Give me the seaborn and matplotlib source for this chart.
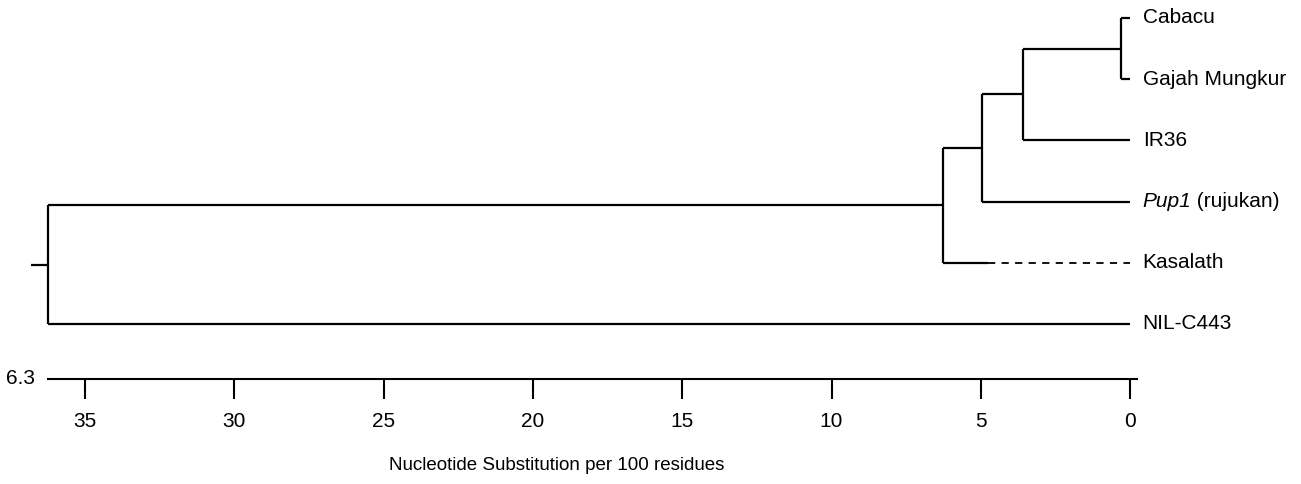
import matplotlib
matplotlib.use("Agg")
import matplotlib.pyplot as plt
import seaborn as sns
import pandas as pd

# ---- data -------------------------------------------------------------
leaf_names = ["Cabacu", "Gajah Mungkur", "IR36", "Pup1", "Kasalath", "NIL-C443"]
leaf_suffix = ["", "", "", " (rujukan)", "", ""]
leaf_italic = [False, False, False, True, False, False]
# merges (scipy-like): ids 0..5 are leaves, 6.. are internal nodes
merge_left = [0, 6, 7, 8, 9]
merge_right = [1, 2, 3, 4, 5]
merge_height = [0.32, 3.58, 4.95, 6.28, 36.24]
kasalath_solid_end = 4.76          # solid part of the Kasalath branch; rest is dashed
root_stub = 36.8
tick_values = [35, 30, 25, 20, 15, 10, 5, 0]
scale_label = "6.3"
x_label = "Nucleotide Substitution per 100 residues"

# ---- build tree geometry ----------------------------------------------
n_leaf = len(leaf_names)
ypos = {i: float(i) for i in range(n_leaf)}
xpos = {i: 0.0 for i in range(n_leaf)}
rows = []
dashed = []
seg = 0
for k, (a, b, h) in enumerate(zip(merge_left, merge_right, merge_height)):
    node = n_leaf + k
    ypos[node] = (ypos[a] + ypos[b]) / 2
    xpos[node] = h
    rows += [dict(seg=seg, x=h, y=ypos[a]), dict(seg=seg, x=h, y=ypos[b])]
    seg += 1
    for c in (a, b):
        if c == 4:  # Kasalath: solid then dashed
            rows += [dict(seg=seg, x=h, y=ypos[c]), dict(seg=seg, x=kasalath_solid_end, y=ypos[c])]
            dashed += [dict(x=kasalath_solid_end, y=ypos[c]), dict(x=xpos[c], y=ypos[c])]
        else:
            rows += [dict(seg=seg, x=h, y=ypos[c]), dict(seg=seg, x=xpos[c], y=ypos[c])]
        seg += 1
root = n_leaf + len(merge_height) - 1
rows += [dict(seg=seg, x=xpos[root], y=ypos[root]), dict(seg=seg, x=root_stub, y=ypos[root])]
df = pd.DataFrame(rows)
dfd = pd.DataFrame(dashed)

# ---- plot -------------------------------------------------------------
sns.set_style("white")
plt.rcParams["font.family"] = ["Liberation Sans", "DejaVu Sans"]
plt.rcParams["text.color"] = "black"
plt.rcParams["xtick.color"] = "black"

fig = plt.figure(figsize=(13.01, 4.84), dpi=100)
ax = fig.add_axes([48 / 1301, 105 / 484, (1137 - 48) / 1301, 379 / 484])

sns.lineplot(data=df, x="x", y="y", units="seg", estimator=None, sort=False,
             color="black", lw=1.6, ax=ax, legend=False)
sns.lineplot(data=dfd, x="x", y="y", estimator=None, sort=False,
             color="black", lw=1.3, ax=ax, legend=False, linestyle=(0, (4, 3.5)))
for ln in ax.lines:
    ln.set_clip_on(False)
    ln.set_solid_capstyle("butt")

ax.set_xlim(36.24, -0.23)
ax.set_ylim(5.90, -0.294)

FS = 15
for i, name in enumerate(leaf_names):
    t1 = ax.annotate(name, xy=(0, ypos[i]), xytext=(9, 0), textcoords="offset points",
                     va="center", ha="left", fontsize=FS, color="black",
                     style="italic" if leaf_italic[i] else "normal",
                     annotation_clip=False)
    if leaf_suffix[i]:
        ax.annotate(leaf_suffix[i], xy=(1, 0.5), xycoords=t1, va="center", ha="left",
                    fontsize=FS, color="black", annotation_clip=False)

for s in ("top", "left", "right"):
    ax.spines[s].set_visible(False)
ax.spines["bottom"].set_linewidth(1.5)
ax.spines["bottom"].set_color("black")
ax.set_xticks(tick_values)
ax.set_xticklabels([str(t) for t in tick_values])
ax.tick_params(axis="x", direction="out", length=14.5, width=1.5, colors="black",
               labelsize=FS, pad=9, bottom=True)
ax.set_yticks([])
ax.set_xlabel("")
ax.set_ylabel("")

ax.text(-0.012, 0.0, scale_label, transform=ax.transAxes, ha="right", va="center",
        fontsize=FS, color="black")
fig.text(557 / 1301, 18 / 484, x_label, ha="center", va="center", fontsize=13.5, color="black")

fig.savefig("out.png", dpi=100)
